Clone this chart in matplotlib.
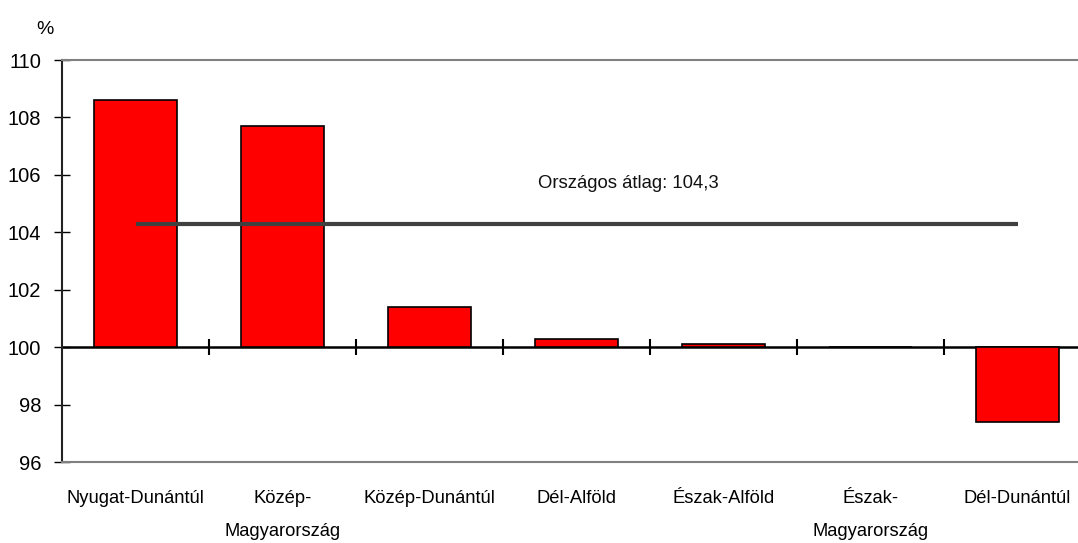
import matplotlib.pyplot as plt

plt.rcParams["font.family"] = ["Liberation Sans", "DejaVu Sans"]

regions = [
    "Nyugat-Dunántúl",
    "Közép-\nMagyarország",
    "Közép-Dunántúl",
    "Dél-Alföld",
    "Észak-Alföld",
    "Észak-\nMagyarország",
    "Dél-Dunántúl",
]
values = [108.6, 107.7, 101.4, 100.3, 100.1, 100.0, 97.4]
national_avg = 104.3
base = 100
y_ticks = [96, 98, 100, 102, 104, 106, 108, 110]

fig = plt.figure(figsize=(10.78, 5.43), dpi=100)
ax = fig.add_axes([62 / 1078, 81 / 543, 1029 / 1078, 402 / 543])

x = list(range(len(regions)))
heights = [v - base for v in values]
ax.bar(x, heights, bottom=base, width=0.57, color="#ff0000",
       edgecolor="black", linewidth=1.2, zorder=3)

ax.hlines(national_avg, x[0], x[-1], color="#404040", linewidth=3, zorder=4)
ax.text(3.35, 105.7, f"Országos átlag: {str(national_avg).replace('.', ',')}",
        ha="center", va="center", fontsize=13.3, color="#111111")

ax.set_xlim(-0.5, len(regions) - 0.5)
ax.set_ylim(96, 110)
ax.set_yticks(y_ticks)
ax.tick_params(axis="y", direction="inout", length=12, width=1,
               labelsize=14.5, pad=9)
ax.set_xticks(x)
ax.set_xticklabels(regions, fontsize=13.2, linespacing=2.25)
ax.tick_params(axis="x", length=0, pad=20)

for side in ["top", "bottom"]:
    ax.spines[side].set_color("#808080")
    ax.spines[side].set_linewidth(1.5)
ax.spines["right"].set_visible(False)
ax.spines["left"].set_color("#222222")
ax.spines["left"].set_linewidth(1.5)

# baseline axis at 100 with category separators
sec = ax.secondary_xaxis((base - 96) / (110 - 96))
sec.set_xticks([i + 0.5 for i in x[:-1]])
sec.set_xticklabels([])
sec.tick_params(direction="inout", length=12, width=1.5)
sec.spines["bottom"].set_color("black")
sec.spines["bottom"].set_linewidth(1.8)

fig.text(45 / 1078, 1 - 30 / 543, "%", ha="center", va="center", fontsize=14)

fig.savefig("out.png", dpi=100)
